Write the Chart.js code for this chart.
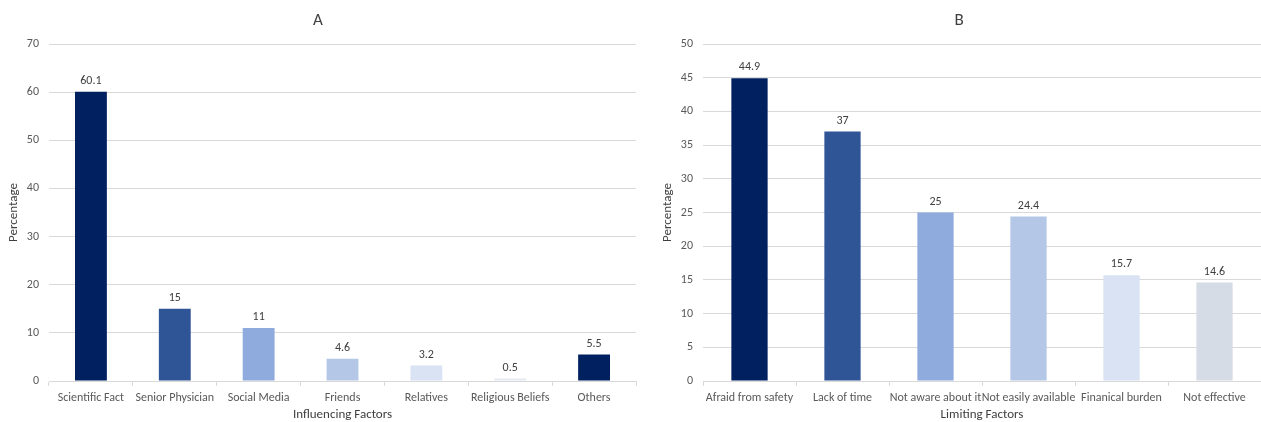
<!DOCTYPE html>
<html>
<head>
<meta charset="utf-8">
<script src="https://cdn.jsdelivr.net/npm/chart.js@4.4.1/dist/chart.umd.min.js"></script>
<style>
  html, body { margin: 0; padding: 0; background: #fff; }
  #wrap { position: relative; width: 1261px; height: 422px; }
  #boxA { position: absolute; left: 0; top: 0; width: 640px; height: 422px; }
  #boxB { position: absolute; left: 640px; top: 0; width: 621px; height: 422px; }
</style>
</head>
<body>
<div id="wrap">
  <div id="boxA"><canvas id="chartA"></canvas></div>
  <div id="boxB"><canvas id="chartB"></canvas></div>
</div>
<script>
const categoriesA = ["Scientific Fact", "Senior Physician", "Social Media", "Friends", "Relatives", "Religious Beliefs", "Others"];
const valuesA = [60.1, 15, 11, 4.6, 3.2, 0.5, 5.5];
const colorsA = ["#002060", "#2F5597", "#8FAADC", "#B4C7E7", "#DAE3F3", "#E4E9F2", "#002060"];

const categoriesB = ["Afraid from safety", "Lack of time", "Not aware about it", "Not easily available", "Finanical burden", "Not effective"];
const valuesB = [44.9, 37, 25, 24.4, 15.7, 14.6];
const colorsB = ["#002060", "#2F5597", "#8FAADC", "#B4C7E7", "#DAE3F3", "#D6DCE5"];

const FONT = "Carlito, Lato, 'Open Sans', sans-serif";

const valueLabels = {
  id: 'valueLabels',
  afterDatasetsDraw(chart) {
    const ctx = chart.ctx;
    ctx.save();
    ctx.font = "12px " + FONT;
    ctx.fillStyle = "#404040";
    ctx.textAlign = "center";
    ctx.textBaseline = "bottom";
    chart.data.datasets.forEach((ds, i) => {
      const meta = chart.getDatasetMeta(i);
      meta.data.forEach((el, j) => {
        ctx.fillText(String(ds.data[j]), el.x, el.y - 5);
      });
    });
    ctx.restore();
  }
};

function makeChart(id, title, cats, vals, colors, yMax, yStep, xTitle, barPct, pad) {
  return new Chart(document.getElementById(id), {
    type: 'bar',
    data: {
      labels: cats,
      datasets: [{
        data: vals,
        backgroundColor: colors,
        borderWidth: 0,
        categoryPercentage: 1,
        barPercentage: barPct
      }]
    },
    options: {
      responsive: true,
      maintainAspectRatio: false,
      animation: false,
      layout: { padding: pad },
      plugins: {
        legend: { display: false },
        tooltip: { enabled: false },
        title: {
          display: true,
          text: title,
          color: "#404040",
          font: { family: FONT, size: 17, weight: 'normal', lineHeight: 1.2 },
          padding: { top: 11, bottom: 12.6 }
        }
      },
      scales: {
        x: {
          ticks: {
            color: "#595959",
            font: { family: FONT, size: 12 },
            autoSkip: false,
            maxRotation: 0,
            minRotation: 0,
            padding: 5
          },
          grid: {
            offset: true,
            drawOnChartArea: false,
            drawTicks: true,
            tickLength: 5,
            color: "#D9D9D9"
          },
          border: { display: true, color: "#D9D9D9" },
          title: {
            display: true,
            text: xTitle,
            color: "#404040",
            font: { family: FONT, size: 13, lineHeight: 1 },
            padding: { top: 0, bottom: 1 }
          },
          afterFit(scale) { scale.height = 41; }
        },
        y: {
          min: 0,
          max: yMax,
          ticks: {
            stepSize: yStep,
            color: "#595959",
            font: { family: FONT, size: 12 },
            padding: 10
          },
          grid: {
            color: "#D9D9D9",
            drawTicks: false
          },
          border: { display: false },
          title: {
            display: true,
            text: "Percentage",
            color: "#404040",
            font: { family: FONT, size: 13 },
            padding: { top: 6, bottom: 0 }
          },
          afterFit(scale) { scale.width = 49; }
        }
      }
    },
    plugins: [valueLabels]
  });
}

makeChart('chartA', 'A', categoriesA, valuesA, colorsA, 70, 10, 'Influencing Factors', 0.38, { left: 0, right: 4, top: 0, bottom: 0 });
makeChart('chartB', 'B', categoriesB, valuesB, colorsB, 50, 5, 'Limiting Factors', 0.39, { left: 14, right: -3, top: 0, bottom: 0 });
</script>
</body>
</html>
